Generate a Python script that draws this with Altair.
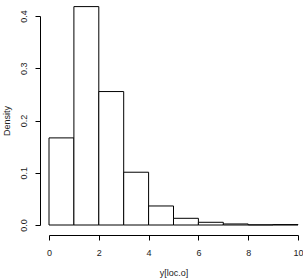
import altair as alt
import pandas as pd

bin_start = [0, 1, 2, 3, 4, 5, 6, 7, 8, 9]
bin_end = [1, 2, 3, 4, 5, 6, 7, 8, 9, 10]
density = [0.1667, 0.418, 0.2554, 0.101, 0.0364, 0.0128, 0.0052, 0.002, 0.0003, 0.0008]
x_ticks = [0, 2, 4, 6, 8, 10]
y_ticks = [0.0, 0.1, 0.2, 0.3, 0.4]

df = pd.DataFrame({"start": bin_start, "end": bin_end, "density": density})

FONT = "Liberation Sans"

chart = alt.Chart(df).mark_rect(fill="white", stroke="black", strokeWidth=1).encode(
    x=alt.X("start:Q", scale=alt.Scale(domain=[0, 10], nice=False, zero=False),
            axis=alt.Axis(values=x_ticks, title="y[loc.o]", offset=10, grid=False,
                          tickSize=5, labelPadding=8, titlePadding=11,
                          labelFontSize=9, titleFontSize=9, labelFont=FONT, titleFont=FONT,
                          titleFontWeight="normal", domainColor="black", tickColor="black",
                          labelColor="#222222", titleColor="#222222", labelFlush=False)),
    x2="end:Q",
    y=alt.Y("density:Q", scale=alt.Scale(domain=[0, 0.4], nice=False),
            axis=alt.Axis(values=y_ticks, title="Density", offset=9, grid=False,
                          tickSize=5, labelPadding=7, labelAngle=270, labelAlign="center",
                          labelBaseline="bottom", format=".1f",
                          titlePadding=8, labelFontSize=9, titleFontSize=9,
                          labelFont=FONT, titleFont=FONT, titleFontWeight="normal",
                          domainColor="black", tickColor="black", labelColor="#222222",
                          titleColor="#222222", labelFlush=False)),
    y2=alt.datum(0),
).properties(
    width=249, height=209,
    background="white",
    autosize=alt.AutoSizeParams(type="none"),
    padding={"left": 49, "top": 16, "right": 5, "bottom": 54},
).configure_view(strokeWidth=0, stroke="transparent")

chart.save("out.html", embed_options={"renderer": "svg", "actions": False})
